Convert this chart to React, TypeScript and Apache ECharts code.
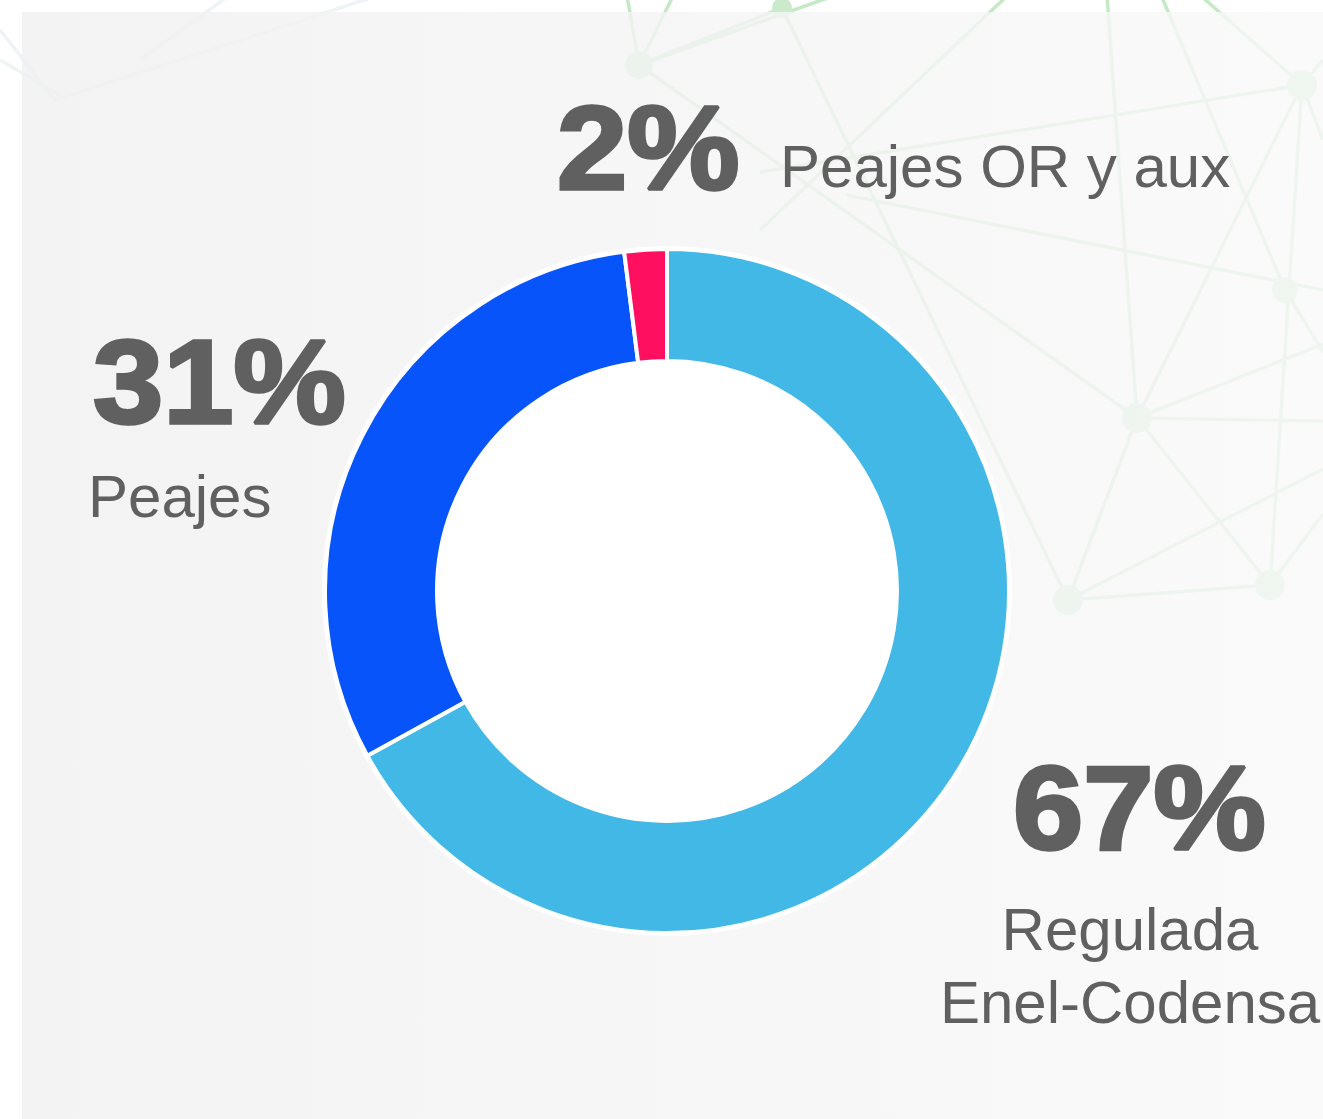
import React, { useEffect, useRef } from "react";
import * as echarts from "echarts";

// ---- data ----
const categories = ["Regulada\nEnel-Codensa", "Peajes", "Peajes OR y aux"];
const values = [67, 31, 2];
const colors = ["#42B8E6", "#0755FA", "#FF0F5F"];

// label layout per category (decorative placement)
const labelLayout = [
  { pctX: 1013, pctY: 808, nameX: 1130, nameY: 966, nameAlign: "center" },
  { pctX: 93, pctY: 382, nameX: 88, nameY: 496, nameAlign: "left" },
  { pctX: 557, pctY: 148, nameX: 780, nameY: 166, nameAlign: "left" },
];

// decorative network in the background
const netNodes = [
  [639, 65, 14], [782, 8, 10], [1302, 85, 15], [1137, 418, 15],
  [1068, 600, 15], [1270, 585, 15], [1285, 290, 13],
];
const netEdges = [
  [639, 65, 626, -10], [639, 65, 676, -10], [639, 65, 782, 8], [639, 65, 850, -10],
  [639, 65, 1137, 418], [782, 8, 1068, 600], [1008, -5, 760, 230],
  [1107, -5, 1137, 418], [1302, 85, 1137, 418], [1137, 418, 1323, 421],
  [1137, 418, 1323, 344], [1137, 418, 1270, 585], [1137, 418, 1068, 600],
  [1068, 600, 1270, 585], [1068, 600, 1323, 469], [1270, 585, 1323, 514],
  [760, 172, 1302, 85], [1161, -5, 1285, 290], [1285, 290, 1323, 352],
  [1302, 85, 1323, 60], [1302, 85, 1323, 140], [1200, -5, 1302, 85],
  [846, 195, 1323, 290], [1302, 85, 1270, 585],
];
const faintEdges = [
  [0, 30, 55, 100], [0, 60, 60, 95], [230, -5, 140, 60], [380, -5, 55, 100],
];

const TEXT = "#606060";

export default function App() {
  const ref = useRef<HTMLDivElement>(null);
  useEffect(() => {
    if (!ref.current) return;
    const chart = echarts.init(ref.current, null, { renderer: "svg" });

    const graphics: any[] = [];
    netEdges.forEach(([x1, y1, x2, y2]) =>
      graphics.push({
        type: "line",
        z: 0,
        z2: 0,
        shape: { x1, y1, x2, y2 },
        style: { stroke: "#c5e8c5", lineWidth: 3.5 },
      })
    );
    faintEdges.forEach(([x1, y1, x2, y2]) =>
      graphics.push({
        type: "line",
        z: 0,
        z2: 0,
        shape: { x1, y1, x2, y2 },
        style: { stroke: "#eef3f5", lineWidth: 3.5 },
      })
    );
    netNodes.forEach(([cx, cy, r]) =>
      graphics.push({
        type: "circle",
        z: 0,
        z2: 0,
        shape: { cx, cy, r },
        style: { fill: "#cbeacb" },
      })
    );
    graphics.push({
      type: "rect",
      z: 0,
      z2: 5,
      shape: { x: 22, y: 12, width: 1320, height: 1120 },
      style: {
        fill: new echarts.graphic.LinearGradient(0, 0, 1, 0, [
          { offset: 0, color: "rgba(240,240,240,0.8)" },
          { offset: 1, color: "rgba(249,249,249,0.8)" },
        ]),
      },
    });
    graphics.push({
      type: "circle",
      z: 1,
      shape: { cx: 667, cy: 591, r: 345 },
      style: { fill: "#ffffff" },
    });

    values.forEach((v, i) => {
      const L = labelLayout[i];
      graphics.push({
        type: "text",
        z: 3,
        x: L.pctX,
        y: L.pctY,
        scaleX: 1.07,
        style: {
          text: v + "%",
          fill: TEXT,
          stroke: TEXT,
          lineWidth: 3.5,
          font: "bold 118px 'Liberation Sans', Arial, sans-serif",
          align: "left",
          verticalAlign: "middle",
        },
      });
      graphics.push({
        type: "text",
        z: 3,
        x: L.nameX,
        y: L.nameY,
        style: {
          text: categories[i],
          fill: TEXT,
          font: "60px 'Liberation Sans', Arial, sans-serif",
          lineHeight: 73,
          align: L.nameAlign,
          verticalAlign: "middle",
        },
      });
    });

    chart.setOption({
      animation: false,
      backgroundColor: "#ffffff",
      graphic: { elements: graphics },
      series: [
        {
          type: "pie",
          z: 2,
          center: [667, 591],
          radius: [230, 342],
          startAngle: 90,
          clockwise: true,
          label: { show: false },
          labelLine: { show: false },
          emphasis: { disabled: true },
          itemStyle: { borderColor: "#ffffff", borderWidth: 4 },
          data: categories.map((name, i) => ({
            name,
            value: values[i],
            itemStyle: { color: colors[i] },
          })),
        },
      ],
    });
    return () => chart.dispose();
  }, []);

  return (
    <div
      ref={ref}
      style={{ position: "fixed", left: 0, top: 0, width: 1323, height: 1119 }}
    />
  );
}
